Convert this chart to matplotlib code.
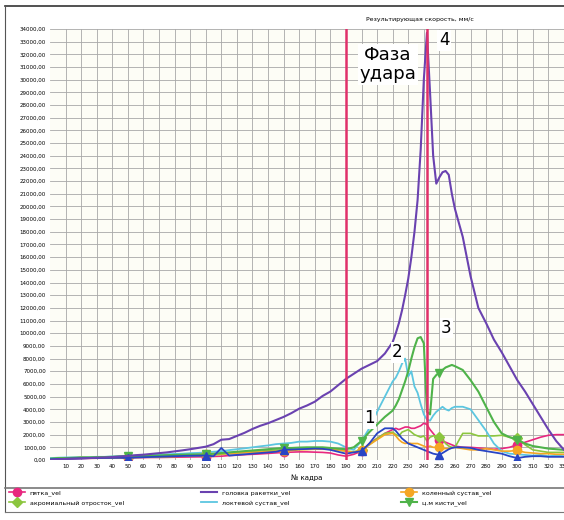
# ============================================================
# Результирующая скорость по кадрам (удар ракеткой)
# ============================================================

import matplotlib
matplotlib.use('Agg')
import matplotlib.pyplot as plt
from matplotlib.lines import Line2D

# ── Data ─────────────────────────────────────────────────────
# frame grid: step 5 up to 220, step 2 around the impact, then step 5
frames = ([f for f in range(0, 221, 5)]
          + [f for f in range(222, 261, 2)]
          + [f for f in range(265, 336, 5)])

racket_head = [0, 50, 80, 100, 120, 150, 180, 200, 230, 280,
               320, 380, 420, 480, 540, 600, 680, 760, 850, 950,
               1050, 1250, 1600, 1650, 1900, 2150, 2450, 2700, 2900, 3150,
               3400, 3700, 4050, 4300, 4600, 5050, 5400, 5900, 6400, 6800,
               7200, 7500, 7800, 8400, 9300,
               10000, 10800, 11800, 13000, 14300, 16000, 18000, 20500, 24500, 30000,
               33700, 29000, 24000, 21800, 22300, 22700, 22800, 22500, 21000, 19800,
               17600, 14500, 12000, 10800, 9500, 8500, 7400, 6300, 5400, 4400,
               3400, 2400, 1500, 800, 500]

elbow = [150, 180, 200, 200, 220, 230, 250, 250, 280, 300,
         320, 350, 370, 400, 420, 450, 480, 500, 540, 560,
         600, 650, 700, 780, 850, 920, 1000, 1080, 1150, 1250,
         1300, 1350, 1450, 1450, 1500, 1500, 1450, 1300, 1000, 800,
         1500, 2500, 3800, 5000, 6200,
         6500, 7000, 7600, 8000, 6600, 7000, 5800, 5300, 4400, 3600,
         3200, 3100, 3500, 3800, 4000, 4200, 4000, 3900, 4100, 4200,
         4200, 4000, 3150, 2300, 1300, 700, 500, 450, 400, 350,
         400, 300, 350, 300, 300]

wrist = [100, 150, 150, 180, 200, 200, 220, 230, 250, 280,
         300, 300, 320, 330, 350, 380, 400, 420, 430, 440,
         450, 500, 550, 600, 650, 700, 750, 800, 850, 900,
         950, 950, 980, 1000, 1000, 1000, 950, 900, 850, 1000,
         1500, 2200, 2800, 3400, 3900,
         4300, 4800, 5500, 6200, 7000, 8000, 8900, 9600, 9700, 9200,
         3800, 3600, 6400, 6700, 6900, 7100, 7300, 7400, 7500, 7400,
         7100, 6300, 5400, 4200, 3000, 2100, 1800, 1600, 1300, 1100,
         1000, 900, 850, 800, 800]

acromion = [80, 100, 120, 130, 150, 150, 160, 170, 180, 190,
            200, 210, 220, 230, 250, 260, 280, 300, 320, 340,
            360, 400, 450, 500, 550, 600, 650, 700, 750, 780,
            800, 820, 850, 870, 880, 870, 850, 800, 700, 650,
            800, 1200, 1700, 2100, 2200,
            2000, 1900, 2200, 2300, 2400, 2200, 2000, 1900, 1800, 1900,
            1500, 1800, 1900, 1900, 1800, 1600, 1300, 1100, 1000, 1000,
            2100, 2100, 1900, 1900, 1900, 1950, 1800, 1700, 1200, 800,
            700, 600, 600, 600, 600]

heel = [100, 100, 120, 120, 130, 130, 140, 150, 150, 160,
        170, 180, 190, 200, 200, 210, 220, 230, 240, 250,
        250, 280, 300, 350, 380, 420, 450, 480, 520, 560,
        600, 620, 640, 640, 620, 600, 550, 400, 300, 450,
        700, 1300, 1700, 2100, 2400,
        2500, 2400, 2500, 2600, 2600, 2500, 2500, 2600, 2700, 2900,
        2800, 2400, 2100, 1800, 1600, 1500, 1400, 1300, 1200, 1100,
        1000, 1000, 950, 900, 850, 900, 1000, 1200, 1400, 1600,
        1800, 1950, 2000, 2000, 2000]

knee = [80, 100, 120, 150, 200, 180, 180, 200, 220, 230,
        250, 260, 280, 300, 320, 340, 360, 380, 400, 420,
        450, 480, 500, 520, 550, 580, 600, 630, 660, 680,
        700, 750, 800, 820, 850, 850, 850, 780, 700, 600,
        800, 1200, 1600, 2000, 2100,
        1900, 1600, 1400, 1300, 1350, 1300, 1300, 1300, 1200, 1100,
        1000, 1100, 1000, 1000, 1000, 900, 900, 900, 950, 1000,
        900, 800, 800, 900, 800, 700, 700, 750, 600, 550,
        500, 500, 450, 450, 450]

shoulder = [50, 80, 100, 120, 130, 150, 150, 160, 170, 180,
            150, 200, 220, 240, 260, 280, 300, 320, 330, 340,
            350, 300, 950, 350, 400, 450, 500, 550, 600, 650,
            800, 820, 850, 870, 900, 880, 800, 650, 500, 600,
            700, 1300, 2100, 2500, 2500,
            2300, 2000, 1700, 1500, 1300, 1200, 1100, 1000, 900, 800,
            700, 600, 500, 450, 400, 550, 700, 850, 950, 1000,
            1000, 950, 800, 700, 600, 500, 300, 150, 250, 300,
            300, 250, 250, 250, 250]

hit_start, hit_end = 190, 242
x_ticks = list(range(10, 331, 10))
y_ticks = list(range(0, 34001, 1000))

# ── Figure ───────────────────────────────────────────────────
fig = plt.figure(figsize=(5.64, 5.20), dpi=100)
ax = fig.add_axes([50 / 564, 60 / 520, 514 / 564, 431 / 520])
ax.set_facecolor('#fdfdf6')

mk = [10, 20, 30, 40, 59, 72]  # markers at frames 50,100,...,300

l_heel, = ax.plot(frames, heel, color='#e8277f', lw=1.2, marker='o', ms=6,
                  markevery=mk, label='пятка_vel', zorder=3)
l_acr, = ax.plot(frames, acromion, color='#8cc63f', lw=1.2, marker='D', ms=5,
                 markevery=mk, label='акромиальный отросток_vel', zorder=3)
l_head, = ax.plot(frames, racket_head, color='#6a42b0', lw=1.5,
                  label='головка ракетки_vel', zorder=4)
l_elb, = ax.plot(frames, elbow, color='#5cc6e0', lw=1.3,
                 label='локтевой сустав_vel', zorder=3)
l_knee, = ax.plot(frames, knee, color='#f5a623', lw=1.2, marker='o', ms=6,
                  markevery=mk, label='коленный сустав_vel', zorder=3)
l_wr, = ax.plot(frames, wrist, color='#4fb34a', lw=1.5, marker='v', ms=6,
                markevery=mk, label='ц.м кисти_vel', zorder=3)
ax.plot(frames, shoulder, color='#2845c4', lw=1.3, marker='^', ms=6,
        markevery=mk, zorder=3)

# impact phase borders
for xv in (hit_start, hit_end):
    ax.axvline(xv, color='#e0306a', lw=1.8, zorder=5)

box = dict(facecolor='white', edgecolor='none', pad=1)
ax.text(217, 31200, 'Фаза\nудара', fontsize=13, ha='center', va='center',
        linespacing=1.1, bbox=box, zorder=6)
ax.text(253, 33100, '4', fontsize=12, ha='center', va='center', bbox=box, zorder=6)
ax.text(254.5, 10400, '3', fontsize=12, ha='center', va='center', bbox=box, zorder=6)
ax.text(223, 8500, '2', fontsize=12, ha='center', va='center', bbox=box, zorder=6)
ax.text(205, 3300, '1', fontsize=12, ha='center', va='center', bbox=box, zorder=6)

# ── Axes styling ─────────────────────────────────────────────
ax.set_xlim(0, 330)
ax.set_ylim(0, 34000)
ax.set_xticks(x_ticks)
ax.set_xticklabels([str(t) for t in x_ticks], fontsize=4)
ax.set_yticks(y_ticks)
ax.set_yticklabels([f'{t:.2f}'.replace('.', ',') for t in y_ticks], fontsize=4)
ax.tick_params(length=0, pad=3)
ax.grid(True, color='#a8a8a8', lw=0.6)
for s in ax.spines.values():
    s.set_visible(False)
ax.set_xlabel('№ кадра', fontsize=5, labelpad=4)
ax.set_title('Результирующая скорость, мм/с', fontsize=4.5, pad=6, x=0.72)

# ── Legend (three columns, placed separately) and frame ──────
columns = [(8, [l_heel, l_acr]), (200, [l_head, l_elb]), (400, [l_knee, l_wr])]
for x_px, handles in columns:
    fig.legend(handles=handles, loc='upper left',
               bbox_to_anchor=(x_px / 564, 1 - 489 / 520),
               fontsize=4.5, frameon=False, handlelength=2.5,
               labelspacing=0.6, borderaxespad=0, borderpad=0.2)

fig.add_artist(Line2D([5 / 564, 1], [1 - 6 / 520, 1 - 6 / 520], color='#333333', lw=1.2))
fig.add_artist(Line2D([5 / 564, 5 / 564], [1 - 6 / 520, 1 - 512 / 520], color='#555555', lw=0.8))
fig.add_artist(Line2D([5 / 564, 1], [1 - 488 / 520, 1 - 488 / 520], color='#777777', lw=1.2))
fig.add_artist(Line2D([5 / 564, 1], [1 - 512 / 520, 1 - 512 / 520], color='#777777', lw=0.8))

plt.savefig('out.png', dpi=100)
